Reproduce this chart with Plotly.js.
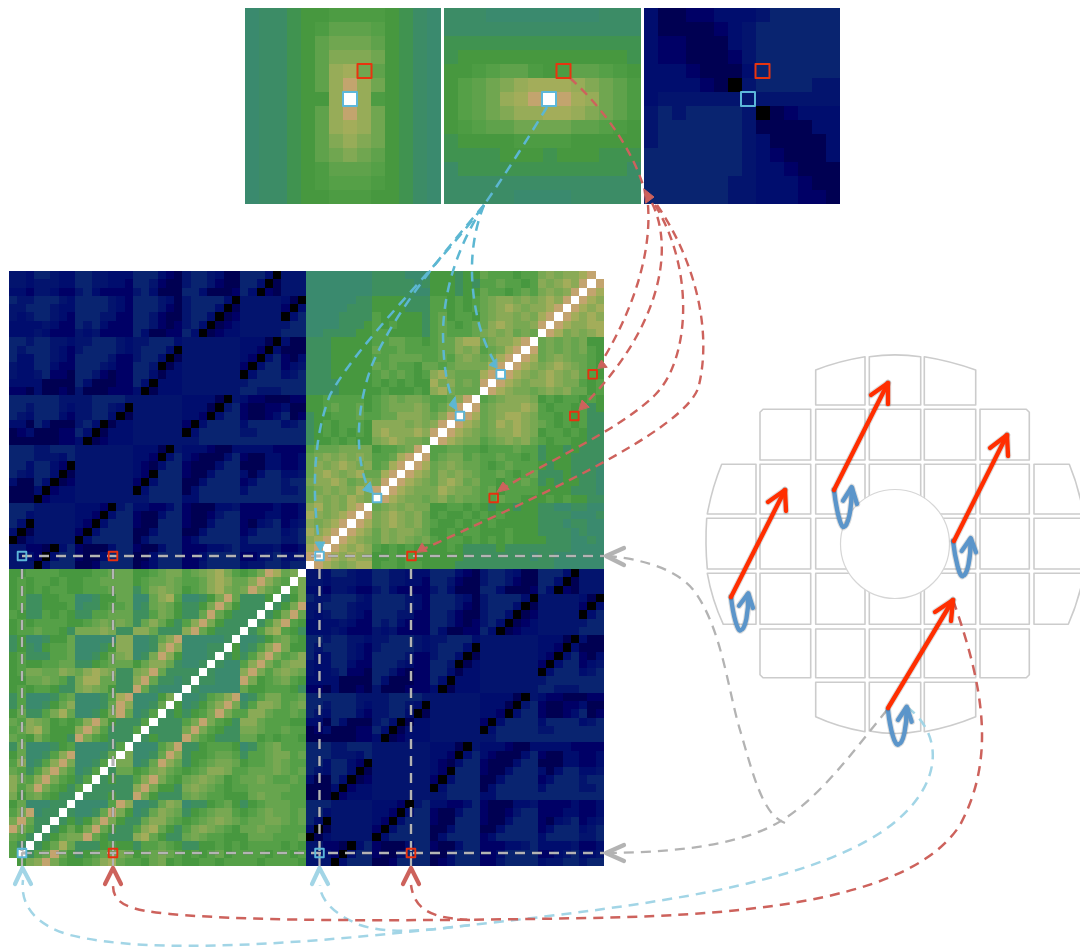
<!DOCTYPE html>
<html><head><meta charset="utf-8">
<script src="https://cdn.plot.ly/plotly-3.0.1.min.js"></script>
<style>html,body{margin:0;padding:0;background:#fff}#plot{width:1080px;height:947px}</style>
</head><body><div id="plot"></div>
<script>
// Colour levels (one base-36 digit per cell): 0-g main ramp, h-n in-between greens
const levelColors=['#000000','#000052','#000066','#000d6e','#03146e','#092470','#0c2c74','#3a8a6e','#3e8f5e','#47983f','#55a047','#67a54e','#78a852','#8aaa56','#a3ad5a','#c3a46e','#ffffff',
 '#3c8c66','#409350','#4d9c43','#5fa24b','#70a650','#82a954','#97ac58'];

// Top three panels, 14 x 14, top row first
const panelA=['7hhi99jjjj9ih7','7hhi9jkkka9ih7','7hhi9klllk9ih7','7hhi9kmmml9ih7','7hhi9knelk9ih7','7hhi9knfnl9ih7','7hhi99ngnj9ih7','7hhi9knfnl9ih7','7hhi9knenl9ih7','7hhi9kmnml9ih7','7hhi9klmlk9ih7','7hhi9jkkka9ih7','7hhi9jaaaj9ih7','7hhi99jjj99ih7'];
const panelB=['hhh77777777hhh','hhhhhhhhhhhhhh','iiiiiiiiiiiiii','i999999999999i','99jakkj9jkkaj9','9aklmneeenmlkj','9aklnefgfenlkj','9aklmnneenmlkj','9jakkllllkkaj9','i9999jjjj99999','iiii999i999iii','hiiiiiiiiiiiih','hhhhhhhhhhhhhh','hhhhh7777hhhhh'];
const panelC=['31122333455555','31111234555555','32211134555555','32211124555555','33321113555555','33332104555544','34444444444444','45455554012333','45555554111133','45555554311113','55555554321113','55555554332111','55555544333211','55555544333221'];

// Large matrix quadrants, 36 x 36, top row first, spaces mark sensor blocks
const quadBlue=[
'44355433 5544333 555321 4554311 55530444','44344433 5544332 554211 4554211 55301444','33244322 4532222 453111 5531112 53021444','54455543 5555432 555431 4555530 44444310',
'44555433 5555432 555421 4555301 44444203','43455432 5554422 554211 4553012 44444035','33334322 5453222 554212 4530123 44444455','33343222 4342222 531122 5301233 44444555',
'55455443 4455543 445553 4444444 33310311','54555432 4555543 455530 4444444 33203111','53355432 5555422 455301 4444444 32035213','43355322 5554322 554013 4444444 20355234',
'43345221 5542122 553133 4444444 03555345','33331111 5311122 530333 4444444 45555555','22131121 4111222 301333 4444444 55444555',
'55555544 4455554 444444 3333104 32211122','55455543 4455430 444444 3331045 21122311','54355532 4455301 444444 3320355 21123512','33153111 4530133 444444 2035555 35555345','12311122 5301333 444444 0355555 44555555','11111122 3012333 444444 4455555 55555555',
'55544555 4444444 333104 3332113 33332222','55544435 4444444 332035 3211135 21133223','55355320 4444444 321355 2111355 11133223','54355301 4444444 320555 2113555 31355334','31153012 4444444 203555 1135555 23555455','11130233 4444444 035555 1355555 35555445','11102333 4444444 445555 3355555 55555555',
'55544444 3332045 332235 2111334 22223223','55344444 3320355 211355 2112455 22233223','53044444 3203555 211555 2113555 21345234','30144444 2035555 113555 1135555 23555345','01344444 0355555 135555 2355555 35555445','44221035 2111355 211355 2223345 33334223','44320355 2113555 113555 2235555 22345334','44403555 1125555 123555 2245555 34455455'];
const quadTR=[
'77777777 8888777 999899 baaa9aa cdcddefg','77777777 8888878 999898 aabaa9a dcdedfgf','77777777 8888877 999899 baa9aba cdcdfgfe','77777788 9999888 aa9a9a bcddcdc dedfgfed',
'77777888 9999888 aa9a9a bcdedcd defgfede','77778888 a999998 ab9aa9 bcddcdc efgfeded','77778889 a9a9998 aba9ab bdedccd fgfeddee','77888899 aa99998 abaaab cdcdbcb gfecdcde',
'88899999 aabbaa9 abbdee bcddefg bcbcbc99','88899999 baabaaa abbdcd abcefgf bcbcbca9','88899999 aabbbba abacdc bcefgfe bcdcbba9','88899999 babaa9b babccc cefgfed cdedcba9',
'88899999 ababa9a decbbb efgfedc dedcdba9','88889999 a9a9a99 ecdbcb fgfedcd dedcca9a','88889999 9a999a9 decbbb gfedccb cdcdbb9a',
'99aaaaa9 abcbccb aabdfg abcdddc 9a9aa9a9','99abaab9 abcccdc abdfgf bcddded a9aa9a89','899aaaba abbdddc bdfgfe bcdeedc aa9a9a88','89a9aaa9 ddddcdc dfgfed bcededc ba9a9a88','89a9a9a9 deddded fgfedc bcddedc 9aa9a988','899a9a99 cdedccb gfedcc abcdcdb a9aa9988',
'abbbcccc 9aabcfg aabbaa 9aaabaa 89989888','bcdcdcdc aabefgf abccab aabaa9a 89998888','bdcdedcd abefgfe bcdcbb a9abaaa 98998887','bdedcdeb befgfed bdcdcb aaba9ab 88898887','cddedbcd cfgfedc bdedbc aa9aaba 89899887','bcdcdcec fgfedcc cedccb ab9aaaa 99998887','bdcdcedc gfedccb cdbcbb aabaa99 9a9a9988',
'decdcefg bcdcdcc 99aa9a 9899899 88778877','edcdefgf cdedcdb 9a99a9 a9a9999 88887778','dcdefgfe cdedcdb a99a9a 9a99999 88878877','edefgfed bdcddcb 99a9aa 999a999 88887877','defgfedc bdcdcbc a9aa9a 9a9a999 98887787','efgfeded a9a9a99 99a988 8898888 88887777','fgfededd 99a9a99 999988 8888887 88777777','gfedcdee 9aa9aa9 999888 8888888 88777777'];
const quadBL=[
'99aaaa99 99aabbb 99abcc abcdeca 9acfebcg','9a9aa9a9 9aabbbb 9abbcb aabdedb bdfdbagc','9a9a9aa9 9aaabbb 8acdcb 9abdecb cfdbagac','9a8899aa 77899bb 77bdea 7789cfb 8889g89c',
'9a88999a 7889aab 78bcb9 889cfc9 888g89cf','a988a9a9 88aabbb 88acb9 88bfb98 88g89cfb','9a9aaaa9 9abcbcb 8bdb98 adfc988 8g8adfa9','9aabaa98 cccdc88 ddb888 dfb9888 g8adea98',
'8977899b 77777dd 778bdf 777778g 7789bca9','89879aab 77789dd 778dfd 77788g9 78adfc99','9a888aab 7789bcd 78cfd9 7778g89 8adfcabd','9a99aabb 889abbb 9bddb8 778g877 adfcacdd',
'9accbbdc bdedc88 cdfb88 88g8777 dfcacdcb','99bbcba8 ceebb88 dfb887 8g88777 fc9abca9','9a9aa988 cdcb988 fb8777 g877777 b99aaa98',
'8a7778ab 7778aef 7779cg 778abdf 78accaab','8a7789bd 7778bfd 778bg9 789bdfc 8addcabc','9b88aceb 7789cfb 78ag89 89acfca addbaaba','badcb9a9 adfc988 8ag888 acfca98 ddbaaa99','abdeb999 dfda888 ag8888 cfca988 ccbaabaa','ba9ca998 fca9888 g89888 fca9888 bb9a9aa9',
'8b77789a 77778ag 777acf 889aaa9 78abcaaa','9b778adf 7778bgc 778bfd 899abba 8aabccab','ad78adfc 778agcc 78bfdb 89abccb 9aabcbaa','ba8adfca 78ag8bb 9acdba 9abddca abbbcbab','dbadfca9 8ag8988 adfca9 bcdcb9a bbcbaaba','dacfca98 ag88888 dfc998 cdcba9a abbbbbaa','c9bca988 g888988 fc9888 bcbaa99 9bcbbaaa',
'9b77788g 7777afd 778bdc 7889ab9 89abbbaa','acf788g8 778bfc9 78bdcb 89abcca 9abcbbab','cfb88g89 89cfc98 8bddba 9abcdcb abbccbab','fca8g89b 9cfb988 adeb98 acdcba9 bbcbbaaa','ba8g89bc cfb9888 deb988 bcbaa99 9bbbaaab','a8g89beb 8889a99 8aaba9 8899a9a 9aaaa9a9','ag8abfb9 89abccb 9abcba 9a9ab9a aaa9aa9a','g9cdfca9 9abdeba a9bc9a 99aa9aa aa9aaaa9'];

const W=1080,H=947;
const panelBoxes=[[245,441],[444,641],[644,840]];
const panelY=[8,204];
const matrixX=[9,306,604],matrixY=[271,569,866];

// Annotation geometry in page pixels
const markerRedTop=[[364.5,71],[563.5,71],[762.5,71]];
const markerBlueTop=[[350,99],[549,99],[748,99]];
const markerBlue=[[22,556],[319.5,556],[22,853],[319.5,853],[500.7,374.3],[460,416],[377,498]];
const markerRed=[[113,556],[411.5,556],[113,853],[411,853],[592.7,374.3],[574.3,416],[493.7,498]];
const guideH=[[22,604,556],[22,604,853]];
const guideV=[22,113,319.5,411];
const curvesGrey=['M887,710 C850,755 815,805 770,827 C725,848 665,852 610,853','M785,823 C762,815 752,770 740,730 C728,690 722,630 695,592 C680,572 650,560 608,556'];
const curvesLightBlue=['M907,707 C945,735 945,790 880,833 C800,885 650,905 480,924 C300,945 150,955 70,935 C35,925 20,905 23,880','M470,925 C430,930 390,935 360,925 C335,915 320,900 320,885'];
const curvesRose=['M953,600 C985,690 995,760 960,825 C915,895 770,915 590,918 C420,921 260,922 170,914 C130,910 113,905 113,885','M470,920 C440,918 415,915 411,885'];
const curvesCyan=['M547,107 C530,135 505,175 484,205 C440,265 360,340 330,395 C312,440 312,500 320,548','M484,205 C450,245 395,310 372,365 C355,410 355,460 369,490','M484,205 C462,240 445,280 443,330 C443,365 447,390 456,406','M484,205 C470,240 470,275 475,305 C480,335 488,350 496,365'];
const curvesRed=['M570,78 C600,105 630,145 643,185','M648,205 C652,260 628,320 599,366','M652,203 C675,250 660,330 581,408','M655,205 C695,270 690,360 655,395 C620,430 540,465 499,491','M657,205 C695,260 712,330 699,385 C690,430 520,505 419,551'];
const headsCyan=[[[320.5,551],[315,542],[324.5,542]],[[372.7,493],[362.5,490],[370,482]],[[456.7,410],[449,405],[455,397]],[[496.7,368],[489,365],[496.5,359]]];
const headsRed=[[[644,189],[654,197],[646,203]],[[598,368],[601.5,360],[607,367]],[[579,410],[582,400],[589,407]],[[497,492],[503,482],[509,489]],[[417,552],[422,543],[427,551]]];
const chevronsGrey=[[[606,556],[624,548],[624,565]],[[606,853],[624,845],[624,861]]];
const chevronsLightBlue=[[[22.5,868],[15,884],[31,884]],[[319.5,868],[312,884],[328,884]]];
const chevronsRose=[[[113,868],[105,884],[121,884]],[[411,868],[403,884],[419,884]]];
const arrowsRed=[[[731,597],[785,490],[768,502],[786,511]],[[834,490],[888,383],[871,395],[888,404]],[[954,541],[1007,435],[990,448],[1008,456]],[[888,708],[953,600],[935,612],[951,621]]];
const arrowsBlue=[['M731,597 C733,615 738,634 741,630 C745,630 749,612 748,595',[748.3,593.3],[739,605.7],[753,608]],['M834,490 C836,508 841,530 844,526.7 C848,527 852,508 851.5,489',[851.7,487],[843,500.7],[857,504]],['M953,541 C955,558 960,580 963,575.7 C967,576 971,558 970.5,540',[970.7,538],[961.7,551],[976,552.3]],['M888,710 C890,728 895,749 899,744 C903,744 907,726 906.5,709',[906.7,706.7],[898,720],[911.7,721.7]]];

const waferColsX=[[706.7,756],[760,810.7],[815.7,865],[869.3,920.7],[924.3,975.7],[980,1029.3],[1034,1086]];
const waferRowsY=[[355,405],[409.3,460],[464.3,514],[518.3,569],[573.3,624.3],[629,677.7],[682.3,733.3]];
const waferRectCells=[[1,1],[1,2],[1,3],[1,4],[1,5],[2,1],[2,2],[2,3],[2,4],[2,5],[3,1],[3,2],[3,3],[3,4],[3,5],[4,1],[4,2],[4,3],[4,4],[4,5],[5,1],[5,2],[5,3],[5,4],[5,5]];
const waferCurved=[
'M815.7,405 L815.7,370 Q838,361 865,356.7 L865,405 Z','M869.3,405 L869.3,356.7 Q895,353 920.7,356.7 L920.7,405 Z','M924.3,405 L924.3,356.7 Q951,361 975.7,370 L975.7,405 Z',
'M815.7,682.3 L815.7,716.7 Q838,727 865,731.7 L865,682.3 Z','M869.3,682.3 L869.3,731 Q895,736 920.7,731 L920.7,682.3 Z','M924.3,682.3 L924.3,731.7 Q951,727 975.7,716.7 L975.7,682.3 Z',
'M756,464.3 L721.7,464.3 Q712,488 707.3,514 L756,514 Z','M756,518.3 L706.7,518.3 Q705,544 707.3,569 L756,569 Z','M756,573.3 L707.3,573.3 Q712,600 723.3,624.3 L756,624.3 Z',
'M1034,464.3 L1069.3,464.3 Q1079,488 1083.5,514 L1034,514 Z','M1034,518.3 L1086,518.3 L1086,569 L1034,569 Z','M1034,573.3 L1084,573.3 Q1079,600 1068.3,624.3 L1034,624.3 Z'];
const waferHole=[895,544,54.5];

const toRow=s=>s.replace(/ /g,'').split('').map(c=>parseInt(c,36));
const scale=levelColors.map((c,i)=>[i/(levelColors.length-1),c]);
const traces=[],layout={width:W,height:H,margin:{l:0,r:0,t:0,b:0},paper_bgcolor:'#fff',plot_bgcolor:'rgba(0,0,0,0)',showlegend:false,shapes:[]};
let axisIndex=0;
function addHeat(rows,xr,yr){
  axisIndex++;const z=rows.map(toRow),n=z.length,id=axisIndex===1?'':axisIndex;
  traces.push({type:'heatmap',z:z,zmin:0,zmax:levelColors.length-1,colorscale:scale,showscale:false,hoverinfo:'skip',xaxis:'x'+id,yaxis:'y'+id});
  layout['xaxis'+id]={domain:[xr[0]/W,xr[1]/W],range:[-0.5,n-0.5],autorange:false,visible:false,fixedrange:true,anchor:'y'+id};
  layout['yaxis'+id]={domain:[1-yr[1]/H,1-yr[0]/H],range:[n-0.5,-0.5],autorange:false,visible:false,fixedrange:true,anchor:'x'+id};
}
addHeat(panelA,panelBoxes[0],panelY);
addHeat(panelB,panelBoxes[1],panelY);
addHeat(panelC,panelBoxes[2],panelY);
addHeat(quadBlue,[matrixX[0],matrixX[1]],[matrixY[0],matrixY[1]]);
addHeat(quadTR,[matrixX[1],matrixX[2]],[matrixY[0],matrixY[1]]);
addHeat(quadBL,[matrixX[0],matrixX[1]],[matrixY[1],matrixY[2]]);
addHeat(quadBlue,[matrixX[1],matrixX[2]],[matrixY[1],matrixY[2]]);
const ov=axisIndex+1;
traces.push({type:'scatter',x:[0],y:[0],mode:'markers',marker:{opacity:0,size:1},hoverinfo:'skip',xaxis:'x'+ov,yaxis:'y'+ov});
layout['xaxis'+ov]={domain:[0,1],range:[0,W],autorange:false,visible:false,fixedrange:true,anchor:'y'+ov};
layout['yaxis'+ov]={domain:[0,1],range:[H,0],autorange:false,visible:false,fixedrange:true,anchor:'x'+ov};
const S=layout.shapes;
const addPath=(path,color,width,dash,fill)=>S.push({type:'path',xref:'x'+ov,yref:'y'+ov,path:path,layer:'above',line:{color:color,width:width,dash:dash||'solid'},fillcolor:fill||'rgba(0,0,0,0)'});
const poly=p=>'M'+p.map(q=>q.join(',')).join(' L');
const tileGrey='#cccccc';
waferRectCells.forEach(([r,c])=>{
  const [x0,x1]=waferColsX[c],[y0,y1]=waferRowsY[r];
  const corner=(r===1&&c===1)?`M${x0+3},${y0} L${x1},${y0} L${x1},${y1} L${x0},${y1} L${x0},${y0+3} Z`:null;
  const corner2=(r===1&&c===5)?`M${x0},${y0} L${x1-3},${y0} L${x1},${y0+3} L${x1},${y1} L${x0},${y1} Z`:null;
  const corner3=(r===5&&c===1)?`M${x0},${y0} L${x1},${y0} L${x1},${y1} L${x0+3},${y1} L${x0},${y1-3} Z`:null;
  const corner4=(r===5&&c===5)?`M${x0},${y0} L${x1},${y0} L${x1},${y1-3} L${x1-3},${y1} L${x0},${y1} Z`:null;
  addPath(corner||corner2||corner3||corner4||`M${x0},${y0} L${x1},${y0} L${x1},${y1} L${x0},${y1} Z`,tileGrey,1.6);
});
waferCurved.forEach(p=>addPath(p,tileGrey,1.6));
S.push({type:'circle',xref:'x'+ov,yref:'y'+ov,x0:waferHole[0]-waferHole[2],x1:waferHole[0]+waferHole[2],y0:waferHole[1]-waferHole[2],y1:waferHole[1]+waferHole[2],layer:'above',line:{color:'#d6d6d6',width:1.2},fillcolor:'#ffffff'});
const guide='#b4b4b4',dash='10px,7px';
guideH.forEach(([a,b,y])=>{addPath(`M${a},${y} L${b},${y}`,'rgba(0,0,0,0.14)',4,dash);addPath(`M${a},${y} L${b},${y}`,guide,2.4,dash);});
guideV.forEach(x=>{addPath(`M${x},569 L${x},853`,'rgba(0,0,0,0.14)',4,dash);addPath(`M${x},569 L${x},853`,guide,2.4,dash);addPath(`M${x},853 L${x},868`,guide,2.2);});
curvesGrey.forEach(p=>addPath(p,'#b3b3b3',2.3,'10px,7px'));
curvesLightBlue.forEach(p=>addPath(p,'#a2d5e6',2.5,'10px,7px'));
curvesRose.forEach(p=>addPath(p,'#cd625c',2.5,'10px,7px'));
curvesCyan.forEach(p=>addPath(p,'#5cb7d2',2.5,'10px,7px'));
curvesRed.forEach(p=>addPath(p,'#cd625c',2.4,'9px,6px'));
const headPath=h=>poly(h)+' Z';
const chevPath=h=>`M${h[1].join(',')} L${h[0].join(',')} L${h[2].join(',')}`;
headsCyan.forEach(h=>addPath(headPath(h),'#5cb7d2',1,null,'#5cb7d2'));
headsRed.forEach(h=>addPath(headPath(h),'#cd625c',1,null,'#cd625c'));
chevronsGrey.forEach(h=>addPath(chevPath(h),'#b3b3b3',4.2));
chevronsLightBlue.forEach(h=>addPath(chevPath(h),'#a2d5e6',4.2));
chevronsRose.forEach(h=>addPath(chevPath(h),'#cd625c',4.2));
const sq=(c,s,color,w)=>S.push({type:'rect',xref:'x'+ov,yref:'y'+ov,x0:c[0]-s,x1:c[0]+s,y0:c[1]-s,y1:c[1]+s,layer:'above',line:{color:color,width:w},fillcolor:'rgba(0,0,0,0)'});
markerRedTop.forEach(c=>sq(c,7,'#e8340f',2));
markerBlueTop.forEach(c=>sq(c,7,'#5cb7d9',2));
markerBlue.forEach(c=>sq(c,4.3,'#5cb7d9',1.9));
markerRed.forEach(c=>sq(c,4.3,'#e8300f',1.9));
const shadow='rgba(0,0,0,0.13)';
arrowsBlue.forEach(a=>{
  const chev=`M${a[2].join(',')} L${a[1].join(',')} L${a[3].join(',')}`;
  addPath(a[0],shadow,6.5);addPath(chev,shadow,6.5);
  addPath(a[0],'#5b95ca',4.4);addPath(chev,'#5b95ca',4.4);
});
arrowsRed.forEach(a=>{
  const line=`M${a[0].join(',')} L${a[1].join(',')}`,chev=`M${a[2].join(',')} L${a[1].join(',')} L${a[3].join(',')}`;
  addPath(line,shadow,6.5);addPath(chev,shadow,6.5);
  addPath(line,'#ff2e00',4.4);addPath(chev,'#ff2e00',4.4);
});
Plotly.newPlot('plot',traces,layout,{displayModeBar:false,staticPlot:true}).then(()=>{
  document.querySelectorAll('.shapelayer path').forEach(p=>{
    if(!p.style.strokeDasharray||p.style.strokeDasharray==='none'){p.style.strokeLinecap='round';p.style.strokeLinejoin='round';}
  });
});
</script></body></html>
